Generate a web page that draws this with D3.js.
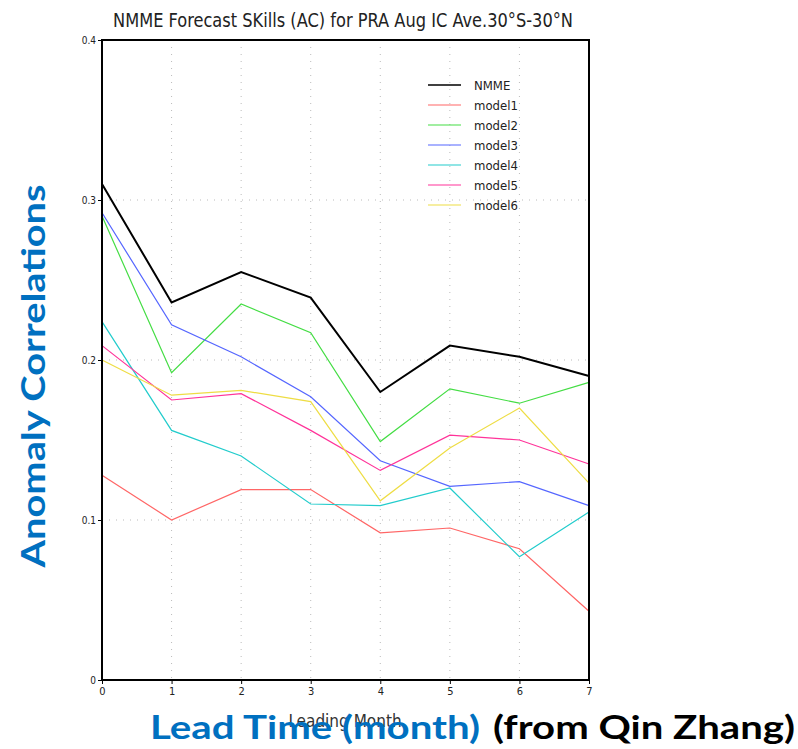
<!DOCTYPE html>
<html>
<head>
<meta charset="utf-8">
<script src="https://cdn.jsdelivr.net/npm/d3@7"></script>
<style>
  body { margin: 0; background: #fff; }
  svg { display: block; }
</style>
</head>
<body>
<div id="chart"></div>
<script>
const WIDTH = 798
const HEIGHT = 749
const NARROW = '"Liberation Sans Narrow", "DejaVu Sans Condensed", "Liberation Sans", sans-serif'
const SLIDE = 'Lato, "Open Sans", "Noto Sans", sans-serif'

// lead months and the y ticks
const leadMonths = [0, 1, 2, 3, 4, 5, 6, 7]
const yTicks = [0, 0.1, 0.2, 0.3, 0.4]
const yTickLabels = ['0', '0.1', '0.2', '0.3', '0.4']

// anomaly correlation per lead month
const nmme = [0.310, 0.236, 0.255, 0.239, 0.180, 0.209, 0.202, 0.190]
const model1 = [0.128, 0.100, 0.119, 0.119, 0.092, 0.095, 0.082, 0.043]
const model2 = [0.290, 0.192, 0.235, 0.217, 0.149, 0.182, 0.173, 0.186]
const model3 = [0.292, 0.222, 0.202, 0.177, 0.137, 0.121, 0.124, 0.109]
const model4 = [0.224, 0.156, 0.140, 0.110, 0.109, 0.120, 0.077, 0.105]
const model5 = [0.209, 0.175, 0.179, 0.156, 0.131, 0.153, 0.150, 0.135]
const model6 = [0.200, 0.178, 0.181, 0.174, 0.112, 0.145, 0.170, 0.123]

const seriesNames = ['NMME', 'model1', 'model2', 'model3', 'model4', 'model5', 'model6']
const seriesValues = [nmme, model1, model2, model3, model4, model5, model6]
const seriesColors = ['#000000', '#ff6666', '#44dd44', '#5566ff', '#22cccc', '#ff3399', '#eedd44']

const svg = d3.select('#chart').append('svg')
  .attr('width', WIDTH)
  .attr('height', HEIGHT)

const x = d3.scaleLinear().domain([0, 7]).range([102, 589])
const y = d3.scaleLinear().domain([0, 0.4]).range([680, 40])

// dotted grid
svg.append('g')
  .selectAll('line')
  .data(leadMonths.slice(1, 7))
  .enter().append('line')
  .attr('x1', d => x(d)).attr('x2', d => x(d))
  .attr('y1', y(0.4)).attr('y2', y(0))
  .attr('stroke', '#bbb')
  .attr('stroke-width', 1)
  .attr('stroke-dasharray', '1,6')

svg.append('g')
  .selectAll('line')
  .data(yTicks.slice(1, 4))
  .enter().append('line')
  .attr('x1', x(0)).attr('x2', x(7))
  .attr('y1', d => y(d)).attr('y2', d => y(d))
  .attr('stroke', '#bbb')
  .attr('stroke-width', 1)
  .attr('stroke-dasharray', '1,6')

// axes
const xAxis = svg.append('g')
  .attr('transform', 'translate(0,' + y(0) + ')')
  .call(d3.axisBottom(x).tickValues(leadMonths).tickFormat(d3.format('d')).tickSize(4).tickPadding(3))
xAxis.select('.domain').remove()
xAxis.selectAll('text')
  .attr('font-family', NARROW)
  .attr('font-size', 11)
  .attr('fill', '#222')

const yAxis = svg.append('g')
  .attr('transform', 'translate(' + x(0) + ',0)')
  .call(d3.axisLeft(y).tickValues(yTicks).tickFormat((d, i) => yTickLabels[i]).tickSize(4).tickPadding(2))
yAxis.select('.domain').remove()
yAxis.selectAll('text')
  .attr('font-family', NARROW)
  .attr('font-size', 10)
  .attr('fill', '#222')

// series lines
const line = d3.line()
  .x((d, i) => x(leadMonths[i]))
  .y(d => y(d))

svg.append('g')
  .selectAll('path')
  .data(seriesValues)
  .enter().append('path')
  .attr('d', d => line(d))
  .attr('fill', 'none')
  .attr('stroke', (d, i) => seriesColors[i])
  .attr('stroke-width', (d, i) => i === 0 ? 2 : 1.2)

// frame
svg.append('rect')
  .attr('x', x(0)).attr('y', y(0.4))
  .attr('width', x(7) - x(0)).attr('height', y(0) - y(0.4))
  .attr('fill', 'none')
  .attr('stroke', '#000')
  .attr('stroke-width', 2)

// legend
const legend = svg.append('g')
  .selectAll('g')
  .data(seriesNames)
  .enter().append('g')
  .attr('transform', (d, i) => 'translate(428,' + (85 + i * 20) + ')')

legend.append('line')
  .attr('x1', 0).attr('x2', 33)
  .attr('stroke', (d, i) => seriesColors[i])
  .attr('stroke-width', (d, i) => i === 0 ? 1.5 : 1.2)

legend.append('text')
  .text(d => d)
  .attr('x', 46)
  .attr('y', 5)
  .attr('font-family', NARROW)
  .attr('font-size', 13)
  .attr('fill', '#222')

// title
svg.append('text')
  .text('NMME Forecast SKills (AC) for PRA  Aug IC Ave.30°S-30°N')
  .attr('x', 113)
  .attr('y', 27)
  .attr('textLength', 460)
  .attr('lengthAdjust', 'spacingAndGlyphs')
  .attr('font-family', NARROW)
  .attr('font-size', 20)
  .attr('fill', '#222')

// original axis title
svg.append('text')
  .text('Leading Month')
  .attr('x', 345)
  .attr('y', 727)
  .attr('text-anchor', 'middle')
  .attr('font-family', NARROW)
  .attr('font-size', 17)
  .attr('fill', '#333')

// overlaid slide labels
svg.append('text')
  .text('Lead Time (month)')
  .attr('x', 150)
  .attr('y', 739)
  .attr('textLength', 330)
  .attr('lengthAdjust', 'spacingAndGlyphs')
  .attr('font-family', SLIDE)
  .attr('font-weight', 'bold')
  .attr('font-size', 33)
  .attr('fill', '#0070c0')

svg.append('text')
  .text('(from Qin Zhang)')
  .attr('x', 493)
  .attr('y', 739)
  .attr('textLength', 302)
  .attr('lengthAdjust', 'spacingAndGlyphs')
  .attr('font-family', SLIDE)
  .attr('font-weight', 'bold')
  .attr('font-size', 33)
  .attr('fill', '#000')

svg.append('text')
  .text('Anomaly Correlations')
  .attr('transform', 'translate(45,376) rotate(-90)')
  .attr('text-anchor', 'middle')
  .attr('textLength', 383)
  .attr('lengthAdjust', 'spacingAndGlyphs')
  .attr('font-family', SLIDE)
  .attr('font-weight', 'bold')
  .attr('font-size', 33)
  .attr('fill', '#0070c0')
</script>
</body>
</html>
